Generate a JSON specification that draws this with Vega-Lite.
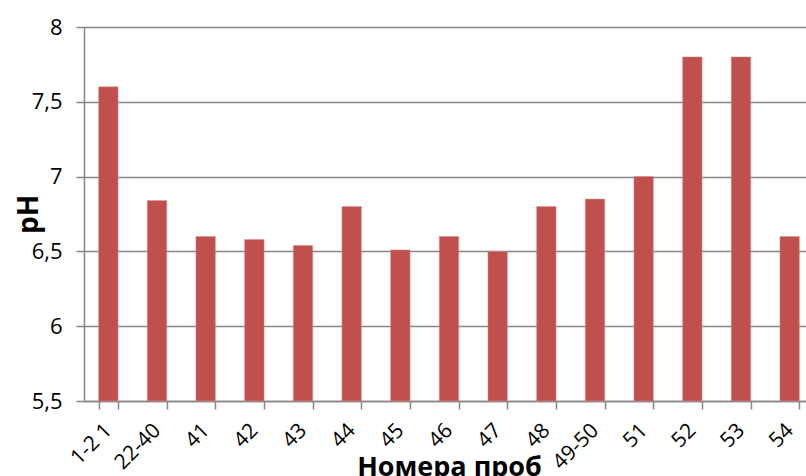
{
  "$schema": "https://vega.github.io/schema/vega-lite/v6.json",
  "autosize": "none",
  "width": 730,
  "height": 374,
  "padding": {"left": 84, "top": 27, "right": 0, "bottom": 75},
  "background": "white",
  "data": {"values": [
    {"probe": "1-2 1", "ph": 7.6},
    {"probe": "22-40", "ph": 6.84},
    {"probe": "41", "ph": 6.6},
    {"probe": "42", "ph": 6.58},
    {"probe": "43", "ph": 6.54},
    {"probe": "44", "ph": 6.8},
    {"probe": "45", "ph": 6.51},
    {"probe": "46", "ph": 6.6},
    {"probe": "47", "ph": 6.5},
    {"probe": "48", "ph": 6.8},
    {"probe": "49-50", "ph": 6.85},
    {"probe": "51", "ph": 7.0},
    {"probe": "52", "ph": 7.8},
    {"probe": "53", "ph": 7.8},
    {"probe": "54", "ph": 6.6}
  ]},
  "mark": {"type": "bar", "color": "#C0504D", "stroke": "#D99694", "strokeWidth": 0.5},
  "encoding": {
    "x": {
      "field": "probe", "type": "nominal", "sort": null,
      "scale": {"paddingInner": 0.6, "paddingOuter": 0.3},
      "axis": {
        "title": "Номера проб", "labelAngle": -45, "labelAlign": "right", "labelBaseline": "middle",
        "labelFontSize": 21, "labelPadding": 18, "tickBand": "extent", "tickSize": 8,
        "titleFontSize": 27, "titleFontWeight": "bold", "titleY": 74, "titleBaseline": "alphabetic"
      }
    },
    "y": {
      "field": "ph", "type": "quantitative",
      "scale": {"domain": [5.5, 8], "zero": false, "nice": false},
      "axis": {
        "title": "pH", "values": [5.5, 6, 6.5, 7, 7.5, 8],
        "labelExpr": "replace(toString(datum.value), '.', ',')",
        "labelFontSize": 22, "labelPadding": 14, "tickSize": 8,
        "titleFontSize": 28, "titleFontWeight": "bold",
        "titleX": -47, "titleBaseline": "alphabetic", "titleAngle": -90
      }
    },
    "y2": {"datum": 5.5}
  },
  "config": {
    "font": "Open Sans",
    "view": {"stroke": null},
    "axis": {
      "domainColor": "#868686", "tickColor": "#868686", "gridColor": "#868686",
      "labelColor": "black", "titleColor": "black", "domainWidth": 1.5, "tickWidth": 1.5
    },
    "axisX": {"grid": false},
    "axisY": {"grid": true, "gridWidth": 1.3}
  }
}
